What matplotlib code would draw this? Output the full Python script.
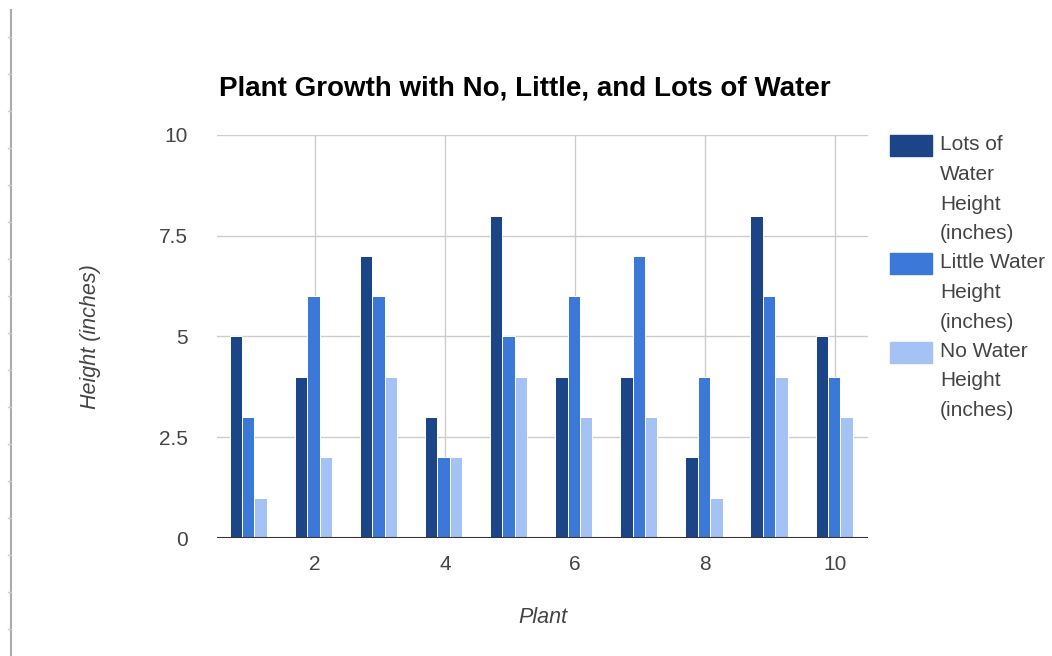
import matplotlib.pyplot as plt
import numpy as np
from matplotlib.lines import Line2D
from matplotlib.patches import Rectangle
from matplotlib.ticker import FuncFormatter

plants = np.arange(1, 11)
lots_water = [5, 4, 7, 3, 8, 4, 4, 2, 8, 5]
little_water = [3, 6, 6, 2, 5, 6, 7, 4, 6, 4]
no_water = [1, 2, 4, 2, 4, 3, 3, 1, 4, 3]
series_labels = ["Lots of\nWater\nHeight\n(inches)",
                 "Little Water\nHeight\n(inches)",
                 "No Water\nHeight\n(inches)"]
colors = ["#1c4587", "#3c78d8", "#a4c2f4"]

plt.rcParams['font.family'] = ['Liberation Sans', 'DejaVu Sans']

W, H = 1052, 656
fig = plt.figure(figsize=(W / 100, H / 100), dpi=100)
ax = fig.add_axes([217 / W, 1 - 538 / H, 651 / W, 403 / H])

bw = 0.19
for i, vals in enumerate([lots_water, little_water, no_water]):
    ax.bar(plants + (i - 1) * bw - 0.02, vals, width=bw, color=colors[i],
           edgecolor='white', linewidth=0.7, zorder=3)

ax.set_xlim(0.5, 10.5)
ax.set_ylim(0, 10)
ax.set_xticks([2, 4, 6, 8, 10])
ax.set_yticks([0, 2.5, 5, 7.5, 10])
ax.yaxis.set_major_formatter(FuncFormatter(lambda v, p: f"{v:g}"))
ax.grid(True, color='#cccccc', linewidth=1, zorder=0)
ax.axhline(0, color='#333333', linewidth=1.5, zorder=4)
for s in ax.spines.values():
    s.set_visible(False)
ax.tick_params(length=0, labelsize=15, labelcolor='#444444')
ax.tick_params(axis='y', pad=21)
ax.tick_params(axis='x', pad=12)

ax.set_ylabel("Height (inches)", fontsize=15.5, style='italic', color='#444444')
ax.yaxis.set_label_coords((101 - 217) / 651, 0.5)
ax.set_xlabel("Plant", fontsize=15.5, style='italic', color='#444444')
ax.xaxis.set_label_coords((543 - 217) / 651, (538 - 607) / 403)

fig.text(525 / W, 1 - 88 / H, "Plant Growth with No, Little, and Lots of Water",
         ha='center', va='center', fontsize=20, fontweight='bold', color='black')

# legend drawn by hand so the swatch sits on the first text line
line_h = 29.5
top = 145
n = 0
for lab, c in zip(series_labels, colors):
    y = top + n * line_h
    fig.patches.append(Rectangle((890 / W, 1 - (y + 11) / H), 42 / W, 21 / H,
                                 transform=fig.transFigure, color=c))
    for k, part in enumerate(lab.split("\n")):
        fig.text(940 / W, 1 - (y + k * line_h) / H, part, ha='left', va='center',
                 fontsize=15, color='#444444')
    n += len(lab.split("\n"))

# page edge from the screenshot
fig.add_artist(Line2D([11 / W, 11 / W], [0, 1 - 10 / H], transform=fig.transFigure,
                      color='#aaaaaa', linewidth=1.5))
for ty in range(37, H, 37):
    fig.add_artist(Line2D([8 / W, 11 / W], [1 - ty / H, 1 - ty / H],
                          transform=fig.transFigure, color='#cccccc', linewidth=1))

fig.savefig("out.png", dpi=100)
